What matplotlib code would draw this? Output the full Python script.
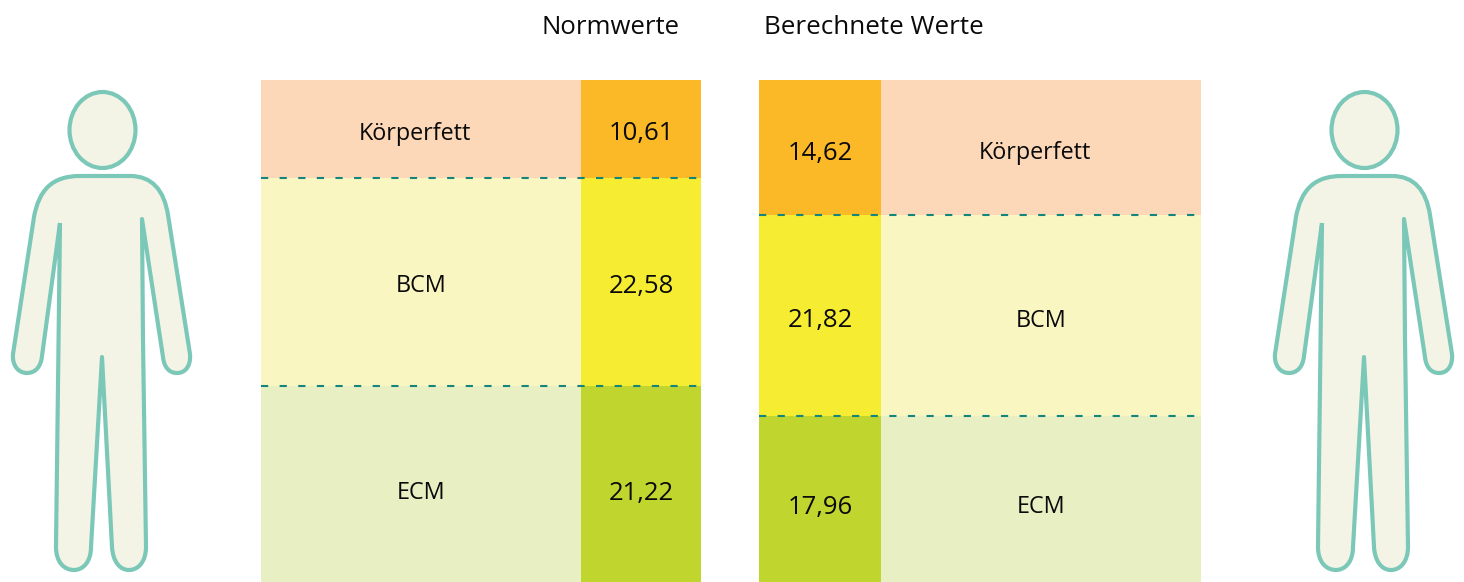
import matplotlib
matplotlib.use("Agg")
import matplotlib.pyplot as plt
from matplotlib.patches import Ellipse, PathPatch
from matplotlib.path import Path

plt.rcParams['font.family'] = ['Open Sans', 'DejaVu Sans']
plt.rcParams['lines.scale_dashes'] = False

categories = ['Körperfett', 'BCM', 'ECM']
norm_values = [10.61, 22.58, 21.22]
calc_values = [14.62, 21.82, 17.96]
titles = ['Normwerte', 'Berechnete Werte']

light_colors = ['#FCD8B8', '#FAF6C2', '#E8EFC3']
strong_colors = ['#FBB827', '#F6EC31', '#C1D52F']
W, H = 1464, 582


def fmt(v):
    return ('%.2f' % v).replace('.', ',')


def add_axes_px(fig, x0, y0, x1, y1):
    return fig.add_axes([x0 / W, 1 - y1 / H, (x1 - x0) / W, (y1 - y0) / H])


def label(ax, x, y, s, size, dx, dy):
    # nudged in pixels, the labels are not quite centred in the original
    ax.annotate(s, (x, y), xytext=(dx, -dy), textcoords='offset pixels', ha='center', va='center',
                fontsize=size, color='#0A0A0A')


def stacked_panel(fig, x0, x1, split, values, value_first, text_dy):
    ax = add_axes_px(fig, x0, 80, x1, 582)
    ax.set_xlim(x0, x1)
    ax.set_ylim(sum(values), 0)
    ax.axis('off')
    if value_first:
        vx0, vx1, lx0, lx1 = x0, split, split, x1
    else:
        lx0, lx1, vx0, vx1 = x0, split, split, x1
    bottom = 0
    for i, v in enumerate(values):
        ax.bar(lx0, v, bottom=bottom, width=lx1 - lx0, align='edge', color=light_colors[i], linewidth=0)
        ax.bar(vx0, v, bottom=bottom, width=vx1 - vx0, align='edge', color=strong_colors[i], linewidth=0)
        mid = bottom + v / 2
        label(ax, (lx0 + lx1) / 2, mid, categories[i], 16.8, -6 if i == 0 else 0, text_dy[i])
        label(ax, (vx0 + vx1) / 2, mid, fmt(v), 18.5, 0, text_dy[i])
        bottom += v
        if i < len(values) - 1:
            ax.plot([x0, x1], [bottom, bottom], color='#14857D', lw=1.5, linestyle=(0, (5.2, 8.2)))


def person(ax, dx):
    fill, stroke = '#F4F4E6', '#7CC8B8'
    M, L, C = Path.MOVETO, Path.LINETO, Path.CURVE4
    pts = [
        (60, 223), (42, 356),
        (41, 367), (35, 373), (27, 373),
        (18, 373), (12, 365), (13, 354),
        (34, 217),
        (39, 190), (52, 176), (80, 176),
        (130, 176),
        (152, 176), (164, 190), (168, 215),
        (190, 354),
        (191, 365), (186, 373), (177, 373),
        (169, 373), (164, 367), (163, 357),
        (142, 219),
        (143, 340),
        (146, 547),
        (146, 562), (138, 570), (129, 570),
        (120, 570), (113, 562), (112, 547),
        (102, 357),
        (91, 547),
        (91, 562), (83, 570), (74, 570),
        (64, 570), (56, 562), (56, 547),
        (60, 223),
    ]
    codes = [M, L, C, C, C, C, C, C, L, C, C, C, L, C, C, C, L, C, C, C, C, C, C, L, L, L,
             C, C, C, C, C, C, L, L, C, C, C, C, C, C, L]
    pts = [(x + dx, y) for x, y in pts]
    ax.add_patch(PathPatch(Path(pts, codes), facecolor=fill, edgecolor=stroke, lw=3.0, joinstyle='round'))
    ax.add_patch(Ellipse((102.5 + dx, 130), 66, 76, facecolor=fill, edgecolor=stroke, lw=3.0))


fig = plt.figure(figsize=(W / 100, H / 100), dpi=100)

bg = fig.add_axes([0, 0, 1, 1])
bg.set_xlim(0, W)
bg.set_ylim(H, 0)
bg.axis('off')
person(bg, 0)
person(bg, 1262)
bg.text(611, 28, titles[0], ha='center', va='center', fontsize=18.5, color='#0A0A0A')
bg.text(873.5, 28, titles[1], ha='center', va='center', fontsize=18.7, color='#0A0A0A')

stacked_panel(fig, 261, 701, 581, norm_values, False, [5, 4, 9])
stacked_panel(fig, 759, 1201, 881, calc_values, True, [6, 5, 8])

fig.savefig('out.png', dpi=100)
